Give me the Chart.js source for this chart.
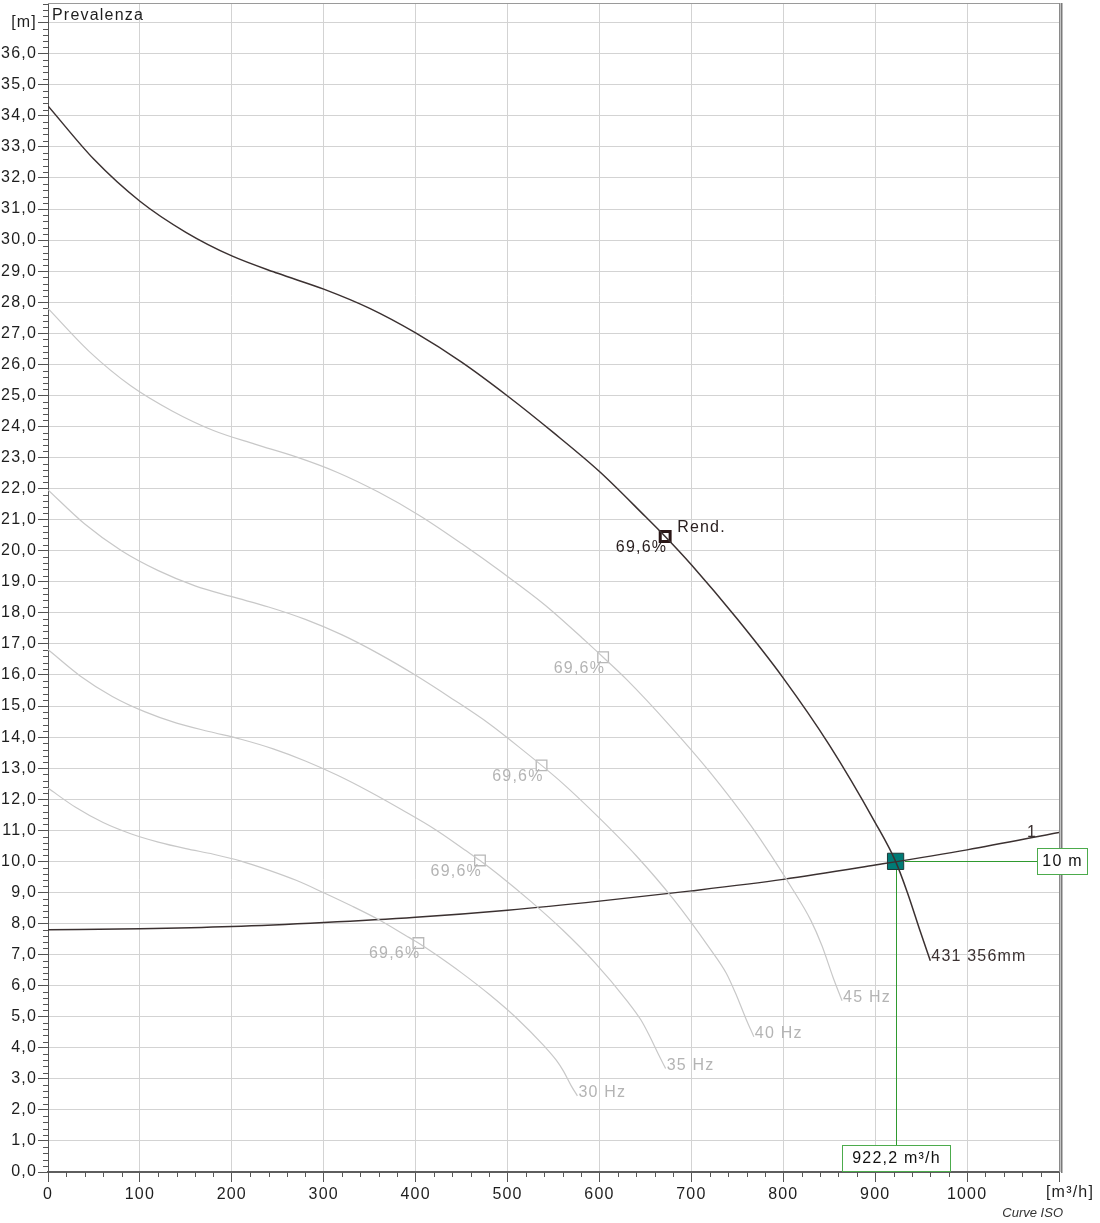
<!DOCTYPE html>
<html><head><meta charset="utf-8">
<script src="https://cdn.jsdelivr.net/npm/chart.js@4.4.1/dist/chart.umd.min.js"></script>
<style>html,body{margin:0;padding:0;background:#fff;overflow:hidden}#wrap{width:1100px;height:1223px}</style>
</head><body><div id="wrap"><canvas id="c" width="1100" height="1223"></canvas></div>
<script>
// ---- data ----
const mainQ = [0,50,100,150,200,250,300,350,400,450,500,550,600,650,671.5,700,750,800,850,900,922.2,935,949,960];
const mainH = [34.32,32.6,31.25,30.25,29.49,28.93,28.42,27.8,27.01,26.07,24.98,23.8,22.55,21.1,20.46,19.55,17.8,15.9,13.75,11.25,10.0,9.0,7.75,6.8];
const mainLabel = '431 356mm';

const hz45Q = [0,45,90,135,180,225,270,315,360,405,450,495,540,585,604,630,675,720,765,810,830,842,854,864];
const hz45H = [27.8,26.41,25.31,24.5,23.87,23.43,23.02,22.52,21.88,21.12,20.23,19.28,18.27,17.09,16.57,15.84,14.42,12.88,11.14,9.11,8.1,7.29,6.28,5.51];
const hz40Q = [0,40,80,120,160,200,240,280,320,360,400,440,480,520,537,560,600,640,680,720,738,748,759,768];
const hz40H = [21.96,20.86,20.0,19.36,18.87,18.52,18.19,17.79,17.29,16.68,15.99,15.23,14.43,13.5,13.09,12.51,11.39,10.18,8.8,7.2,6.4,5.76,4.96,4.35];
const hz35Q = [0,35,70,105,140,175,210,245,280,315,350,385,420,455,470,490,525,560,595,630,645,654,664,672];
const hz35H = [16.82,15.97,15.31,14.82,14.45,14.18,13.93,13.62,13.23,12.77,12.24,11.66,11.05,10.34,10.03,9.58,8.72,7.79,6.74,5.51,4.9,4.41,3.8,3.33];
const hz30Q = [0,30,60,90,120,150,180,210,240,270,300,330,360,390,403,420,450,480,510,540,553,561,569,576];
const hz30H = [12.36,11.74,11.25,10.89,10.62,10.41,10.23,10.01,9.72,9.39,8.99,8.57,8.12,7.6,7.37,7.04,6.41,5.72,4.95,4.05,3.6,3.24,2.79,2.45];
const speedLabels = ['45 Hz','40 Hz','35 Hz','30 Hz'];

const sysQ = [0,100,200,300,400,500,600,700,800,900,1000,1100];
const sysH = [7.8,7.83,7.9,8.03,8.2,8.43,8.72,9.05,9.42,9.88,10.37,10.93];
const sysLabel = '1';

const bepQ = [671.5,604,537,470,403];
const bepH = [20.46,16.57,13.09,10.03,7.37];
const bepEff = [69.6,69.6,69.6,69.6,69.6];

const opQ = 922.2;
const opH = 10.0;

const xTicks = [0,100,200,300,400,500,600,700,800,900,1000,1100];
const yTicks = [0,1,2,3,4,5,6,7,8,9,10,11,12,13,14,15,16,17,18,19,20,21,22,23,24,25,26,27,28,29,30,31,32,33,34,35,36,37];
const xUnit = '[m³/h]';
const yUnit = '[m]';
const yTitle = 'Prevalenza';
const footer = 'Curve ISO';
const rendLabel = 'Rend.';

// ---- helpers ----
const pts = (q,h) => q.map((v,i) => ({x:v, y:h[i]}));
const fmt = v => v.toFixed(1).replace('.', ',');
const FONT = '"Liberation Sans", Arial, sans-serif';
const GRAY = '#c8c8c8';
const GRAYTXT = '#b4b4b4';
const DARK = '#3b3131';
const GREEN = '#2f9a2f';
const BOXGREEN = '#4cab4c';
const SPACING = '1.2px';
const OP_HALF = 9;

const grayCurves = [[hz45Q,hz45H],[hz40Q,hz40H],[hz35Q,hz35H],[hz30Q,hz30H]];

const lineDs = (q,h,color,w) => ({
  data: pts(q,h), showLine:true, borderColor:color, borderWidth:w,
  pointRadius:0, pointHoverRadius:0, cubicInterpolationMode:'monotone', fill:false
});

const datasets = [];
grayCurves.forEach(c => datasets.push(lineDs(c[0], c[1], GRAY, 1.2)));
datasets.push(lineDs(sysQ, sysH, DARK, 1.5));
datasets.push(lineDs(mainQ, mainH, DARK, 1.5));
datasets.push({ data: pts(bepQ.slice(1), bepH.slice(1)), showLine:false, pointStyle:'rect',
  pointRadius:7.5, borderColor:'#b8b8b8', backgroundColor:'#ffffff', borderWidth:1.3 });
datasets.push({ data: [{x:bepQ[0], y:bepH[0]}], showLine:false, pointStyle:'rect',
  pointRadius:7, borderColor:'#2a1616', backgroundColor:'#ffffff', borderWidth:3 });
datasets.push({ data: [{x:opQ, y:opH}], showLine:false, pointStyle:'rect',
  pointRadius:11.5, borderColor:'#1e3a3a', backgroundColor:'#007b76', borderWidth:1 });

const annot = {
  id:'annot',
  beforeDraw(chart){ chart.ctx.letterSpacing = SPACING; },
  afterDatasetsDraw(chart){
    const {ctx, scales:{x,y}, chartArea:a} = chart;
    ctx.save();
    ctx.letterSpacing = SPACING;
    // frame
    ctx.fillStyle = '#9a9a9a'; ctx.fillRect(a.left, a.top - 1, a.right - a.left + 3, 1);
    ctx.fillStyle = '#8a8a8a'; ctx.fillRect(a.right, a.top - 1, 1, a.bottom - a.top + 1);
    ctx.fillStyle = '#c4c4c4'; ctx.fillRect(a.right + 1, a.top - 1, 1, a.bottom - a.top + 1);
    ctx.fillStyle = '#7a7a7a'; ctx.fillRect(a.right + 2, a.top - 1, 1.5, a.bottom - a.top + 2);
    // minor ticks
    ctx.strokeStyle = '#555'; ctx.lineWidth = 1;
    ctx.beginPath();
    for (let i = 1; i <= 188; i++) {
      if (i % 5 === 0) continue;
      const yy = Math.round(y.getPixelForValue(i / 5)) + 0.5;
      ctx.moveTo(a.left - 5, yy); ctx.lineTo(a.left, yy);
    }
    for (let i = 1; i < 55; i++) {
      if (i % 5 === 0) continue;
      const xx = Math.round(x.getPixelForValue(i * 20)) + 0.5;
      ctx.moveTo(xx, a.bottom); ctx.lineTo(xx, a.bottom + 5);
    }
    ctx.stroke();

    // operating point guide lines (from the marker edge outward)
    const cx = Math.round(x.getPixelForValue(opQ));
    const cy = Math.round(y.getPixelForValue(opH));
    const hx = Math.round(a.right - 22), hy = cy - 13;
    const qx = cx - 54, qy = Math.round(a.bottom - 27);
    ctx.fillStyle = GREEN;
    ctx.fillRect(cx + OP_HALF, cy, hx - cx - OP_HALF, 1);
    ctx.fillRect(cx, cy + OP_HALF, 1, qy - cy - OP_HALF);

    ctx.font = '16px ' + FONT;
    ctx.textBaseline = 'middle';
    // y title
    ctx.fillStyle = '#1e1e1e'; ctx.textAlign = 'left';
    ctx.fillText(yTitle, a.left + 4, a.top + 12);
    // speed labels
    ctx.fillStyle = GRAYTXT;
    grayCurves.forEach((c, i) => {
      const n = c[0].length - 1;
      ctx.fillText(speedLabels[i], x.getPixelForValue(c[0][n]) + 1, y.getPixelForValue(c[1][n]) - 3);
    });
    // main label
    ctx.fillStyle = DARK;
    const mn = mainQ.length - 1;
    ctx.fillText(mainLabel, x.getPixelForValue(mainQ[mn]) + 1, y.getPixelForValue(mainH[mn]) - 4);
    // system label
    const sn = sysQ.length - 1;
    ctx.textAlign = 'right'; ctx.textBaseline = 'alphabetic';
    ctx.fillText(sysLabel, x.getPixelForValue(sysQ[sn]) - 22, y.getPixelForValue(sysH[sn]) + 5);
    // efficiency labels
    ctx.textBaseline = 'middle';
    bepQ.forEach((q, i) => {
      const bx = x.getPixelForValue(q), by = y.getPixelForValue(bepH[i]);
      ctx.fillStyle = i === 0 ? '#2a2020' : GRAYTXT;
      ctx.textAlign = 'right';
      ctx.fillText(fmt(bepEff[i]) + '%', bx + 2, by + 11);
      if (i === 0) { ctx.textAlign = 'left'; ctx.fillText(rendLabel, bx + 12, by - 9); }
    });
    // operating point boxes (white fill, 1px green frame)
    const box = (bx, by, w, h) => {
      ctx.fillStyle = BOXGREEN; ctx.fillRect(bx, by, w + 1, h + 1);
      ctx.fillStyle = '#fff'; ctx.fillRect(bx + 1, by + 1, w - 1, h - 1);
    };
    box(hx, hy, 50, 26);
    ctx.fillStyle = '#111'; ctx.textAlign = 'center';
    ctx.fillText(String(opH).replace('.', ',') + ' m', hx + 25.5, cy + 0.5);
    box(qx, qy, 108, 26);
    ctx.fillStyle = '#111';
    ctx.fillText(fmt(opQ) + ' m³/h', qx + 54.5, qy + 13.5);
    // x unit
    ctx.fillStyle = '#1e1e1e';
    ctx.fillText(xUnit, x.getPixelForValue(1100) + 11, a.bottom + 21);
    // footer
    ctx.font = 'italic 13px ' + FONT;
    ctx.letterSpacing = '0px';
    ctx.textAlign = 'right'; ctx.fillStyle = '#333';
    ctx.fillText(footer, a.right + 4, a.bottom + 41);
    ctx.restore();
  }
};

new Chart(document.getElementById('c'), {
  type: 'scatter',
  data: { datasets },
  plugins: [annot],
  options: {
    responsive:false, animation:false, devicePixelRatio:1,
    layout:{ autoPadding:false, padding:{ top:4, right:41, left:0, bottom:0 } },
    plugins:{ legend:{display:false}, tooltip:{enabled:false} },
    scales:{
      x:{ type:'linear', min:0, max:1100,
        afterBuildTicks: s => { s.ticks = xTicks.map(v => ({value:v})); },
        afterFit: s => { s.height = 51; s.paddingLeft = 0; s.paddingRight = 0; },
        grid:{ color:'#d3d3d3', lineWidth:1, tickLength:10, tickColor:'#555', drawTicks:true },
        border:{ display:true, color:'#5e5e5e', width:2 },
        ticks:{ color:'#1e1e1e', font:{ family:FONT, size:16 }, padding:3, maxRotation:0, autoSkip:false,
          callback: v => v === 1100 ? '' : String(v) } },
      y:{ type:'linear', min:0, max:37.6,
        afterBuildTicks: s => { s.ticks = yTicks.map(v => ({value:v})); },
        afterFit: s => { s.width = 48; s.paddingTop = 0; s.paddingBottom = 0; },
        grid:{ color:'#d3d3d3', lineWidth:1, tickLength:10, tickColor:'#555', drawTicks:true },
        border:{ display:true, color:'#555', width:1 },
        ticks:{ color:'#1e1e1e', font:{ family:FONT, size:16 }, padding:1, autoSkip:false,
          callback: v => v === 37 ? yUnit : fmt(v) } }
    }
  }
});
</script></body></html>
